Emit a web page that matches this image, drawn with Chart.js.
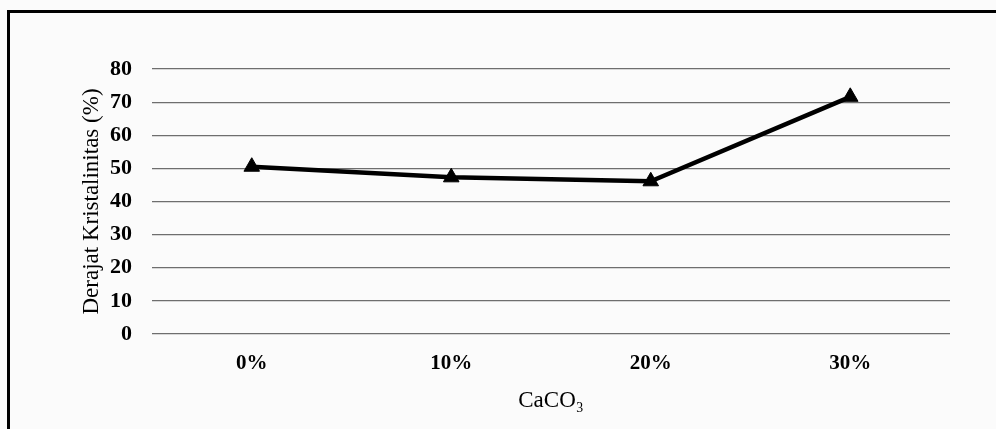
<!DOCTYPE html>
<html>
<head>
<meta charset="utf-8">
<script src="https://cdn.jsdelivr.net/npm/chart.js@4/dist/chart.umd.min.js"></script>
<style>
  html, body { margin: 0; padding: 0; background: #fbfbfb; }
  #wrap { position: relative; width: 996px; height: 429px; overflow: hidden; }
  #frame {
    position: absolute; left: 7px; top: 10px; width: 1100px; height: 500px;
    border-left: 3px solid #000; border-top: 3px solid #000; box-sizing: border-box;
  }
  #c { position: absolute; left: 0; top: 0; }
</style>
</head>
<body>
<div id="wrap">
  <div id="frame"></div>
  <canvas id="c" width="996" height="429"></canvas>
</div>
<script>
// CaCO3 content and the measured degree of crystallinity
const categories = ['0%', '10%', '20%', '30%'];
const crystallinity = [50.5, 47.3, 46.1, 71.6];
const yTicks = [0, 10, 20, 30, 40, 50, 60, 70, 80];

const serif = '"Liberation Serif", "Times New Roman", serif';

new Chart(document.getElementById('c'), {
  type: 'line',
  data: {
    labels: categories,
    datasets: [{
      data: crystallinity,
      borderColor: '#000',
      backgroundColor: '#000',
      borderWidth: 4.5,
      pointStyle: 'triangle',
      pointRadius: 9,
      pointBackgroundColor: '#000',
      pointBorderColor: '#000',
      pointBorderWidth: 1,
      tension: 0,
      fill: false
    }]
  },
  options: {
    responsive: false,
    animation: false,
    layout: { padding: { left: 78, top: 69, right: 46, bottom: 0 } },
    plugins: { legend: { display: false }, tooltip: { enabled: false } },
    scales: {
      x: {
        type: 'category',
        offset: true,
        grid: { display: false, drawTicks: false },
        border: { display: false },
        ticks: {
          color: '#000',
          padding: 17,
          font: { family: serif, size: 21, weight: 'bold' }
        },
        title: {
          display: true,
          text: 'CaCO₃',
          color: '#000',
          padding: { top: 0, bottom: 14 },
          font: { family: serif, size: 23 }
        },
        afterFit: s => { s.height = 95; }
      },
      y: {
        min: 0,
        max: 80,
        afterBuildTicks: s => { s.ticks = yTicks.map(v => ({ value: v })); },
        grid: { color: '#6e6e6e', lineWidth: 1.2, drawTicks: false },
        border: { display: false },
        ticks: {
          color: '#000',
          padding: 20,
          font: { family: serif, size: 22, weight: 'bold' }
        },
        title: {
          display: true,
          text: 'Derajat Kristalinitas (%)',
          color: '#000',
          padding: 0,
          font: { family: serif, size: 23 }
        },
        afterFit: s => { s.width = 74; }
      }
    }
  }
});
</script>
</body>
</html>
